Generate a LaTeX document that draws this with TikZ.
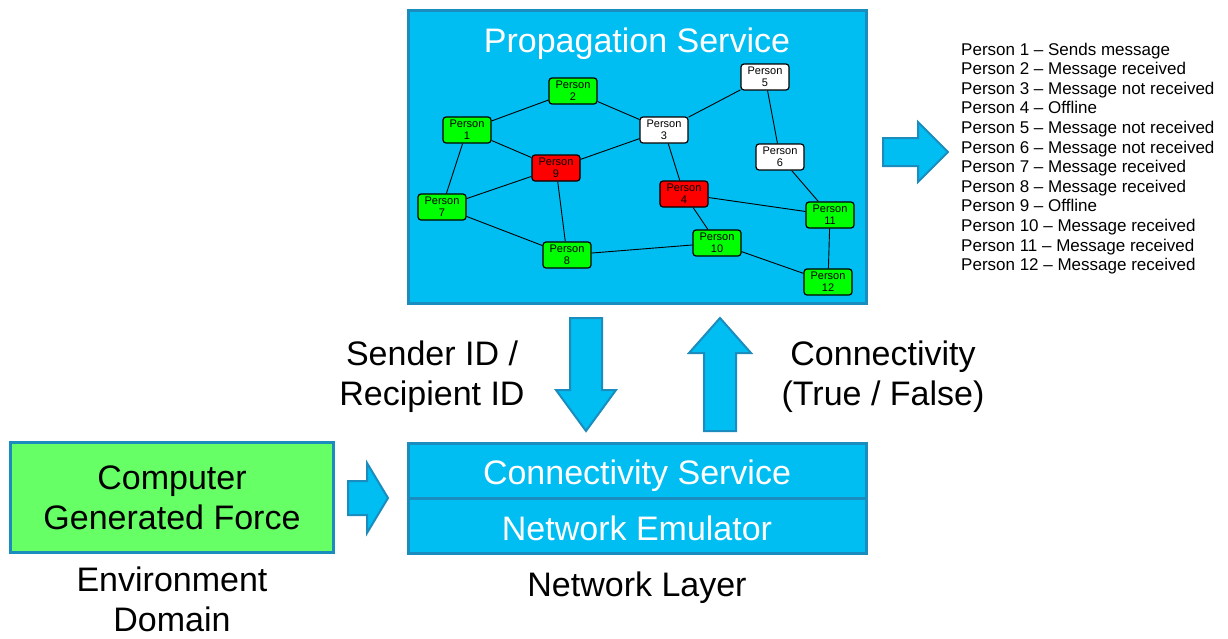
\documentclass[tikz,border=0pt]{standalone}
\usepackage{fontspec}
\setmainfont{Liberation Sans}
\definecolor{skyfill}{RGB}{0,190,242}
\definecolor{skyline}{RGB}{26,140,190}
\definecolor{cgfgreen}{RGB}{102,255,102}
\definecolor{pgreen}{RGB}{0,255,0}
\definecolor{pred}{RGB}{255,0,0}
\tikzset{
  bigbox/.style={draw=skyline, line width=3pt, fill=skyfill, inner sep=0pt},
  blockarrow/.style={draw=skyline, line width=2pt, fill=skyfill, line join=miter},
  bigtext/.style={font=\fontsize{34}{40}\selectfont, align=center, inner sep=0pt, anchor=base},
  whitetext/.style={bigtext, text=white},
  person/.style={draw=black, line width=1.2pt, rounded corners=3pt, minimum width=48pt, minimum height=26pt, inner sep=0pt, align=center, font=\fontsize{11}{12}\selectfont},
  pg/.style={person, fill=pgreen},
  pr/.style={person, fill=pred},
  pw/.style={person, fill=white},
  edge/.style={draw=black, line width=0.9pt},
  legend/.style={anchor=base west, inner sep=0pt, font=\fontsize{17}{20}\selectfont}
}
\begin{document}
\begin{tikzpicture}[x=1pt,y=-1pt]
\useasboundingbox (0,0) rectangle (1228,638);
% Propagation service box
\node[bigbox, minimum width=458pt, minimum height=293pt] (prop) at (637,156.5) {};
\node[whitetext] (proptitle) at (637,52) {Propagation Service};
% persons
\node[pg] (p1) at (467,130) {Person\\1};
\node[pg] (p2) at (573,91) {Person\\2};
\node[pw] (p3) at (664,130) {Person\\3};
\node[pr] (p4) at (684,194) {Person\\4};
\node[pw] (p5) at (765,77) {Person\\5};
\node[pw] (p6) at (780,157) {Person\\6};
\node[pg] (p7) at (442,207) {Person\\7};
\node[pg] (p8) at (567,255) {Person\\8};
\node[pr] (p9) at (556,168) {Person\\9};
\node[pg] (p10) at (717,243) {Person\\10};
\node[pg] (p11) at (830,215) {Person\\11};
\node[pg] (p12) at (828,282) {Person\\12};
\path[edge] (p1) -- (p2);
\path[edge] (p2) -- (p3);
\path[edge] (p1) -- (p9);
\path[edge] (p1) -- (p7);
\path[edge] (p3) -- (p9);
\path[edge] (p3) -- (p5);
\path[edge] (p3) -- (p4);
\path[edge] (p5) -- (p6);
\path[edge] (p6) -- (p11);
\path[edge] (p4) -- (p11);
\path[edge] (p4) -- (p10);
\path[edge] (p9) -- (p7);
\path[edge] (p9) -- (p8);
\path[edge] (p7) -- (p8);
\path[edge] (p8) -- (p10);
\path[edge] (p10) -- (p12);
\path[edge] (p11) -- (p12);
% network layer boxes
\node[bigbox, minimum width=458pt, minimum height=55pt] (conn) at (637,470.5) {};
\node[bigbox, minimum width=458pt, minimum height=55pt] (emu) at (637,525.5) {};
\node[whitetext] (conntext) at (637,484) {Connectivity Service};
\node[whitetext] (emutext) at (637,540) {Network Emulator};
\node[bigtext] (netlayer) at (637,596) {Network Layer};
% CGF
\node[bigbox, fill=cgfgreen, minimum width=323pt, minimum height=110pt] (cgf) at (171.5,497.5) {};
\node[bigtext] (cgftext) at (172,529) {Computer\\Generated Force};
\node[bigtext] (envtext) at (172,631) {Environment\\Domain};
% labels
\node[bigtext] (sender) at (432,405) {Sender ID /\\Recipient ID};
\node[bigtext] (connlab) at (883,405) {Connectivity\\(True / False)};
% block arrows
\draw[blockarrow] (570,318) -- (602,318) -- (602,390) -- (616,390) -- (586,431) -- (556,390) -- (570,390) -- cycle;
\draw[blockarrow] (720,318) -- (751,353) -- (736,353) -- (736,431) -- (704,431) -- (704,353) -- (689,353) -- cycle;
\draw[blockarrow] (348,481) -- (367,481) -- (367,463) -- (388,498) -- (367,533) -- (367,515) -- (348,515) -- cycle;
\draw[blockarrow] (883,138) -- (918,138) -- (918,122) -- (948,152) -- (918,182) -- (918,166) -- (883,166) -- cycle;
% legend
\node[legend] (l1) at (961,55) {Person 1 – Sends message};
\node[legend] (l2) at (961,74.6) {Person 2 – Message received};
\node[legend] (l3) at (961,94.2) {Person 3 – Message not received};
\node[legend] (l4) at (961,113.8) {Person 4 – Offline};
\node[legend] (l5) at (961,133.4) {Person 5 – Message not received};
\node[legend] (l6) at (961,153) {Person 6 – Message not received};
\node[legend] (l7) at (961,172.6) {Person 7 – Message received};
\node[legend] (l8) at (961,192.2) {Person 8 – Message received};
\node[legend] (l9) at (961,211.8) {Person 9 – Offline};
\node[legend] (l10) at (961,231.4) {Person 10 – Message received};
\node[legend] (l11) at (961,251) {Person 11 – Message received};
\node[legend] (l12) at (961,270.6) {Person 12 – Message received};
\end{tikzpicture}
\end{document}
